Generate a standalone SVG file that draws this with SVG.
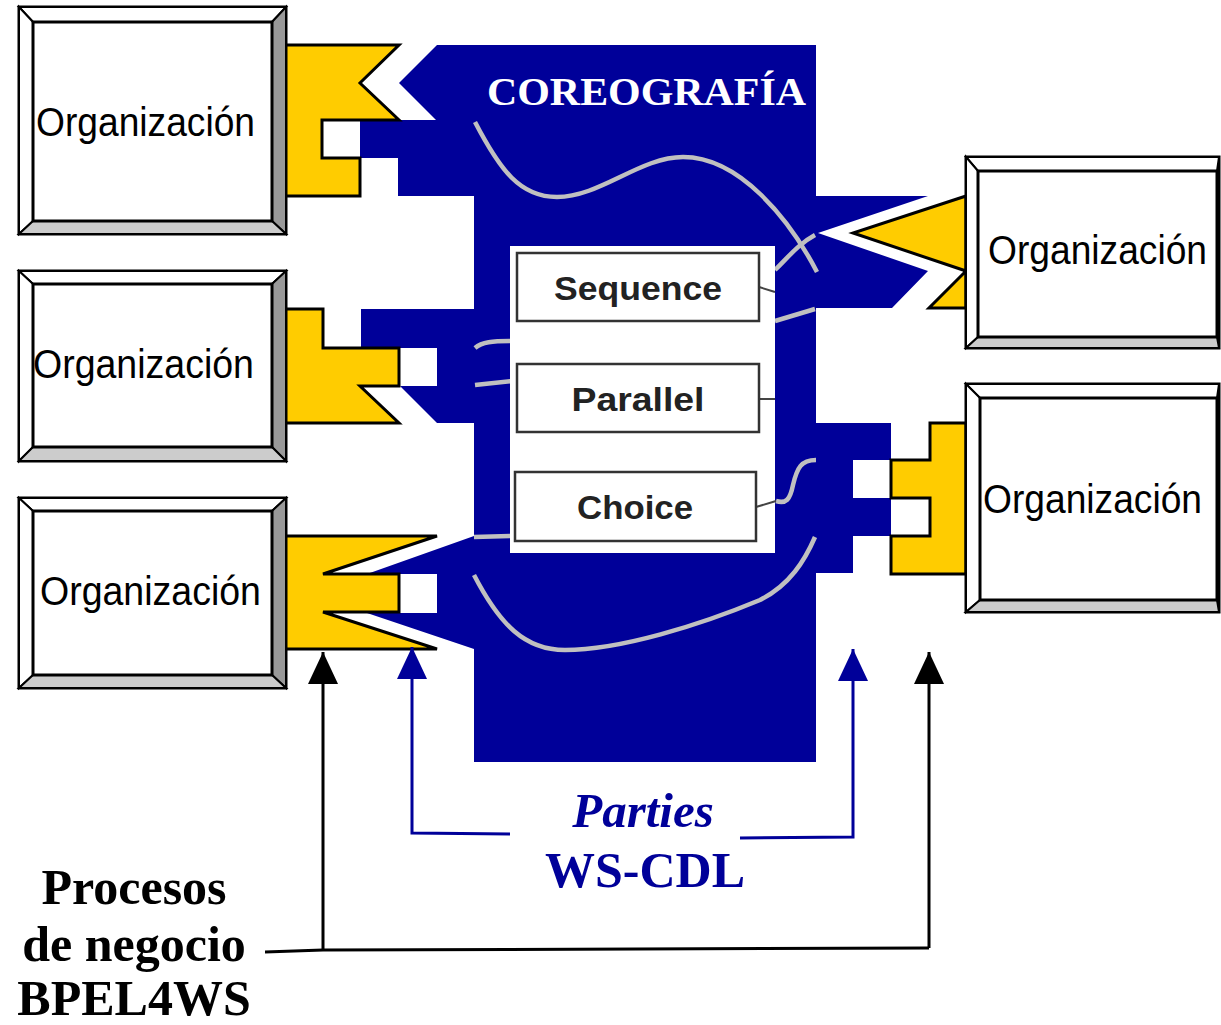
<svg xmlns="http://www.w3.org/2000/svg" width="1221" height="1025" viewBox="0 0 1221 1025">
<defs>
<style>
.ko{fill:#fff;stroke:#000;stroke-width:3}
.lt{fill:#fff;stroke:#000;stroke-width:2}
.rt{fill:#999;stroke:#000;stroke-width:2}
.bt{fill:#ccc;stroke:#000;stroke-width:2}
.ot{font-family:"Liberation Sans",Arial,sans-serif;font-size:41px;fill:#000}
.yel{fill:#FFCC00;stroke:#000;stroke-width:3;stroke-linejoin:miter}
.blu{fill:#000099}
.gc{fill:none;stroke:#c0c0c0;stroke-width:4.5;stroke-linecap:butt}
.pb{fill:#fff;stroke:#333;stroke-width:2.5}
.pt{font-family:"Liberation Sans",Arial,sans-serif;font-weight:bold;font-size:34px;fill:#222;text-anchor:middle}
.dl{fill:none;stroke:#444;stroke-width:2}
.ser{font-family:"Liberation Serif","Times New Roman",serif;font-weight:bold}
</style>
<marker id="ahk" viewBox="0 0 32 30" refX="32" refY="15" markerWidth="32" markerHeight="30" orient="auto" markerUnits="userSpaceOnUse"><path d="M0,0 L32,15 L0,30 Z" fill="#000"/></marker>
<marker id="ahb" viewBox="0 0 32 30" refX="32" refY="15" markerWidth="32" markerHeight="30" orient="auto" markerUnits="userSpaceOnUse"><path d="M0,0 L32,15 L0,30 Z" fill="#000099"/></marker>
</defs>

<g id="coreografia">
<path class="blu" d="M437,45 L816,45 L816,196 L928,196 L818,233 L928,271 L892,308 L816,308 L816,423 L891,423 L891,460 L853,460 L853,498 L891,498 L891,536 L853,536 L853,573 L816,573 L816,762 L474,762 L474,649 L367,613 L437,613 L437,574 L367,574 L474,536 L474,423 L437,423 L400,386 L437,386 L437,348 L361,348 L361,309 L474,309 L474,196 L398,196 L398,158 L360,158 L360,120 L436,120 L399,83 Z"/>
<text class="ser" x="487" y="105" font-size="41" fill="#fff" textLength="319" lengthAdjust="spacingAndGlyphs">COREOGRAFÍA</text>
<path class="gc" d="M475,122 C500,170 520,197 557,197 C600,197 640,157 683,157 C740,157 790,220 817,272"/>
<path class="gc" d="M775,270 C790,255 800,243 815,235"/>
<path class="gc" d="M775,321 L815,309"/>
<path class="gc" d="M475,348 C482,342 492,341 512,341"/>
<path class="gc" d="M475,385 L512,381"/>
<path class="gc" d="M474,537 L512,536"/>
<path class="gc" d="M776,501 C786,504 790,500 793,485 C797,468 801,460 816,460"/>
<path class="gc" d="M474,575 C500,625 525,650 565,650 C620,650 700,625 760,600 C790,585 805,560 815,537"/>
</g>

<g id="panel">
<rect x="510" y="246" width="265" height="307" fill="#fff"/>
<path class="dl" d="M759,287 L775,292"/>
<path class="dl" d="M759,399 L775,399"/>
<path class="dl" d="M756,507 L776,501"/>
<g id="sequence"><rect class="pb" x="517" y="253" width="242" height="68"/><text class="pt" x="638" y="300" textLength="168" lengthAdjust="spacingAndGlyphs">Sequence</text></g>
<g id="parallel"><rect class="pb" x="517" y="364" width="242" height="68"/><text class="pt" x="638" y="411" textLength="133" lengthAdjust="spacingAndGlyphs">Parallel</text></g>
<g id="choice"><rect class="pb" x="515" y="472" width="241" height="69"/><text class="pt" x="635" y="519" textLength="116" lengthAdjust="spacingAndGlyphs">Choice</text></g>
</g>

<g id="org1">
<path class="yel" d="M285,45 L399,45 L360,83 L399,120 L322,120 L322,158 L360,158 L360,196 L285,196 Z"/>
<rect class="ko" x="19" y="7" width="267" height="227"/>
<path class="lt" d="M19,7 L286,7 L272,22 L33,22 Z"/>
<path class="lt" d="M19,7 L33,22 L33,221 L19,234 Z"/>
<path class="rt" d="M286,7 L286,234 L272,221 L272,22 Z"/>
<path class="bt" d="M19,234 L286,234 L272,221 L33,221 Z"/>
<rect class="ko" x="33" y="22" width="239" height="199"/>
<text class="ot" transform="translate(36,136) scale(0.907,1)">Organización</text>
</g>

<g id="org2">
<path class="yel" d="M285,309 L323,309 L323,348 L399,348 L399,386 L360,386 L399,423 L285,423 Z"/>
<rect class="ko" x="19" y="271" width="267" height="190"/>
<path class="lt" d="M19,271 L286,271 L272,284 L33,284 Z"/>
<path class="lt" d="M19,271 L33,284 L33,447 L19,461 Z"/>
<path class="rt" d="M286,271 L286,461 L272,447 L272,284 Z"/>
<path class="bt" d="M19,461 L286,461 L272,447 L33,447 Z"/>
<rect class="ko" x="33" y="284" width="239" height="163"/>
<text class="ot" transform="translate(33,378) scale(0.915,1)">Organización</text>
</g>

<g id="org3">
<path class="yel" d="M285,536 L437,536 L323,574 L399,574 L399,612 L323,612 L437,649 L285,649 Z"/>
<rect class="ko" x="19" y="498" width="267" height="190"/>
<path class="lt" d="M19,498 L286,498 L272,511 L33,511 Z"/>
<path class="lt" d="M19,498 L33,511 L33,675 L19,688 Z"/>
<path class="rt" d="M286,498 L286,688 L272,675 L272,511 Z"/>
<path class="bt" d="M19,688 L286,688 L272,675 L33,675 Z"/>
<rect class="ko" x="33" y="511" width="239" height="164"/>
<text class="ot" transform="translate(40,605) scale(0.915,1)">Organización</text>
</g>

<g id="org4">
<path class="yel" d="M966,196 L853,233 L966,271 L929,308 L966,308 Z"/>
<rect class="ko" x="966" y="157" width="253" height="191"/>
<path class="lt" d="M966,157 L1219,157 L1217,171 L978,171 Z"/>
<path class="lt" d="M966,157 L978,171 L978,337 L966,348 Z"/>
<path class="bt" d="M966,348 L1219,348 L1217,337 L978,337 Z"/>
<rect class="ko" x="978" y="171" width="239" height="166"/>
<text class="ot" transform="translate(988,264) scale(0.907,1)">Organización</text>
</g>

<g id="org5">
<path class="yel" d="M930,423 L966,423 L966,574 L891,574 L891,536 L930,536 L930,498 L891,498 L891,460 L930,460 Z"/>
<rect class="ko" x="966" y="384" width="253" height="228"/>
<path class="lt" d="M966,384 L1219,384 L1217,398 L980,398 Z"/>
<path class="lt" d="M966,384 L980,398 L980,600 L966,612 Z"/>
<path class="bt" d="M966,612 L1219,612 L1217,600 L980,600 Z"/>
<rect class="ko" x="980" y="398" width="237" height="202"/>
<text class="ot" transform="translate(983,513) scale(0.907,1)">Organización</text>
</g>

<g id="connectors">
<path d="M265,952 L323,950 L929,948" fill="none" stroke="#000" stroke-width="3"/>
<path d="M323,950 L323,652" fill="none" stroke="#000" stroke-width="3" marker-end="url(#ahk)"/>
<path d="M929,948 L929,652" fill="none" stroke="#000" stroke-width="3" marker-end="url(#ahk)"/>
<path d="M510,834 L412,833 L412,647" fill="none" stroke="#000099" stroke-width="3" marker-end="url(#ahb)"/>
<path d="M740,838 L853,837 L853,649" fill="none" stroke="#000099" stroke-width="3" marker-end="url(#ahb)"/>
</g>

<g id="labels">
<text class="ser" x="643" y="827" font-size="49" font-style="italic" fill="#000099" text-anchor="middle">Parties</text>
<text class="ser" x="645" y="887" font-size="50" fill="#000099" text-anchor="middle">WS-CDL</text>
<text class="ser" x="134" y="904" font-size="50" fill="#000" text-anchor="middle">Procesos</text>
<text class="ser" x="134" y="961" font-size="50" fill="#000" text-anchor="middle">de negocio</text>
<text class="ser" x="134" y="1015" font-size="50" fill="#000" text-anchor="middle">BPEL4WS</text>
</g>
</svg>
